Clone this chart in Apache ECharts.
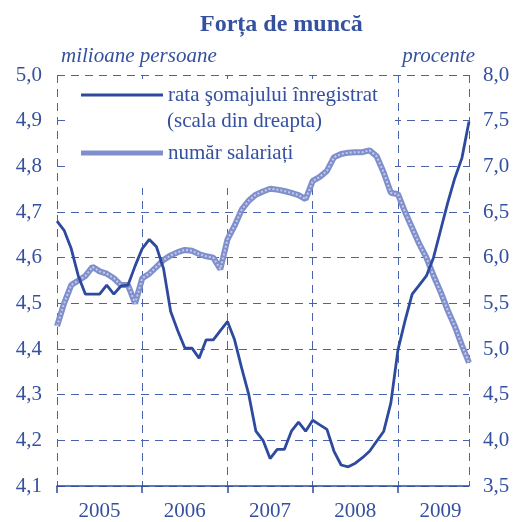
<!DOCTYPE html>
<html>
<head>
<meta charset="utf-8">
<script src="https://cdn.jsdelivr.net/npm/echarts@6/dist/echarts.min.js"></script>
<style>
  html, body { margin: 0; padding: 0; background: #fff; }
  #chart { width: 514px; height: 522px; }
</style>
</head>
<body>
<div id="chart"></div>
<script>
// date lunare ian 2005 - nov 2009
const years = ['2005', '2006', '2007', '2008', '2009']
const months = []
years.forEach(y => {
  for (let m = 1; m <= 12; m++) {
    if (y === '2009' && m > 11) break
    months.push(y + '-' + (m < 10 ? '0' + m : m))
  }
})

// rata somajului inregistrat, % (scala din dreapta)
const somaj = [
  6.40, 6.30, 6.10, 5.80, 5.60, 5.60, 5.60, 5.70, 5.60, 5.69, 5.70, 5.91,
  6.10, 6.20, 6.12, 5.88, 5.41, 5.20, 5.01, 5.01, 4.90, 5.10, 5.10, 5.20,
  5.30, 5.10, 4.79, 4.50, 4.10, 4.00, 3.80, 3.90, 3.90, 4.10, 4.20, 4.10,
  4.22, 4.17, 4.12, 3.88, 3.73, 3.71, 3.75, 3.81, 3.88, 3.99, 4.10, 4.41,
  4.99, 5.31, 5.60, 5.70, 5.80, 6.00, 6.30, 6.60, 6.87, 7.09, 7.49
]

// numar salariati, milioane persoane
const salariati = [
  4.450, 4.500, 4.540, 4.550, 4.560, 4.580, 4.570, 4.565, 4.555, 4.540, 4.540, 4.500,
  4.555, 4.565, 4.580, 4.595, 4.605, 4.612, 4.617, 4.615, 4.608, 4.603, 4.600, 4.575,
  4.640, 4.670, 4.705, 4.725, 4.738, 4.745, 4.751, 4.749, 4.746, 4.742, 4.737, 4.728,
  4.768, 4.777, 4.790, 4.820, 4.827, 4.830, 4.831, 4.831, 4.835, 4.822, 4.786, 4.742,
  4.739, 4.700, 4.665, 4.630, 4.600, 4.561, 4.525, 4.485, 4.450, 4.408, 4.370
]

const leftTicks = { min: 4.1, max: 5.0, step: 0.1 }
const rightTicks = { min: 3.5, max: 8.0, step: 0.5 }

const blue = '#2d4a9e'
const textBlue = '#34509f'
const gridBlue = '#4862ad'
const font = "'Liberation Serif', 'Times New Roman', serif"
const comma = v => v.toFixed(1).replace('.', ',')

const chart = echarts.init(document.getElementById('chart'))

const option = {
  animation: false,
  title: [
    {
      text: 'Forța de muncă',
      left: 195, top: 8,
      textStyle: { fontFamily: font, fontSize: 24, fontWeight: 'bold', color: textBlue }
    },
    {
      text: 'milioane persoane',
      left: 56, top: 41,
      textStyle: { fontFamily: font, fontSize: 21, fontStyle: 'italic', fontWeight: 'normal', color: textBlue }
    },
    {
      text: 'procente',
      right: 34, top: 41,
      textStyle: { fontFamily: font, fontSize: 21, fontStyle: 'italic', fontWeight: 'normal', color: textBlue }
    }
  ],
  grid: { left: 57, right: 45, top: 75, height: 413 },
  legend: {
    orient: 'vertical',
    left: 81, top: 83,
    padding: 0,
    itemWidth: 82, itemHeight: 14, itemGap: 34,
    textStyle: { fontFamily: font, fontSize: 21, color: textBlue, lineHeight: 24 },
    data: [
      { name: 'rata şomajului înregistrat', icon: 'path://M0,0H82V3H0Z', itemStyle: { color: blue } },
      { name: 'număr salariați', icon: 'path://M0,0H82V5H0Z', itemStyle: { color: '#7f8fcb' } }
    ]
  },
  graphic: [
    {
      type: 'rect', z: 1, silent: true,
      shape: { x: 66, y: 79, width: 329, height: 109 },
      style: { fill: '#fff' }
    },
    {
      type: 'text', z: 5, left: 167, top: 111,
      style: { text: '(scala din dreapta)', font: '21px ' + font, fill: textBlue }
    }
  ],
  xAxis: {
    type: 'category',
    data: months,
    boundaryGap: false,
    axisLine: { lineStyle: { color: blue, width: 1.5 } },
    axisTick: {
      interval: i => i % 12 === 0,
      length: 7,
      lineStyle: { color: blue, width: 1.5 }
    },
    axisLabel: {
      interval: i => i % 12 === 6,
      formatter: v => v.slice(0, 4),
      margin: 15,
      fontFamily: font, fontSize: 21, color: textBlue
    },
    splitLine: {
      show: true,
      interval: i => i % 12 === 0 || i === months.length - 1,
      lineStyle: { color: gridBlue, type: [8, 6], width: 1 }
    }
  },
  yAxis: [
    {
      type: 'value',
      min: leftTicks.min, max: leftTicks.max, interval: leftTicks.step,
      axisLine: { show: false },
      axisTick: { show: false },
      axisLabel: {
        formatter: comma, margin: 15,
        fontFamily: font, fontSize: 21, color: textBlue
      },
      splitLine: { lineStyle: { color: gridBlue, type: [8, 6], width: 1 } }
    },
    {
      type: 'value',
      min: rightTicks.min, max: rightTicks.max, interval: rightTicks.step,
      axisLine: { show: false },
      axisTick: { show: false },
      axisLabel: {
        formatter: comma, margin: 14,
        fontFamily: font, fontSize: 21, color: textBlue
      },
      splitLine: { show: false }
    }
  ],
  series: [
    {
      name: 'număr salariați',
      type: 'line',
      yAxisIndex: 0,
      data: salariati,
      symbol: 'none',
      z: 2,
      lineStyle: { color: '#7f8fcb', width: 6 }
    },
    {
      name: 'textura',
      type: 'line',
      yAxisIndex: 0,
      data: salariati,
      symbol: 'none',
      silent: true,
      z: 3,
      lineStyle: { color: '#c3cbea', width: 2, type: [2, 2] }
    },
    {
      name: 'rata şomajului înregistrat',
      type: 'line',
      yAxisIndex: 1,
      data: somaj,
      symbol: 'none',
      z: 4,
      lineStyle: { color: blue, width: 2.8 }
    }
  ]
}

chart.setOption(option)
</script>
</body>
</html>
